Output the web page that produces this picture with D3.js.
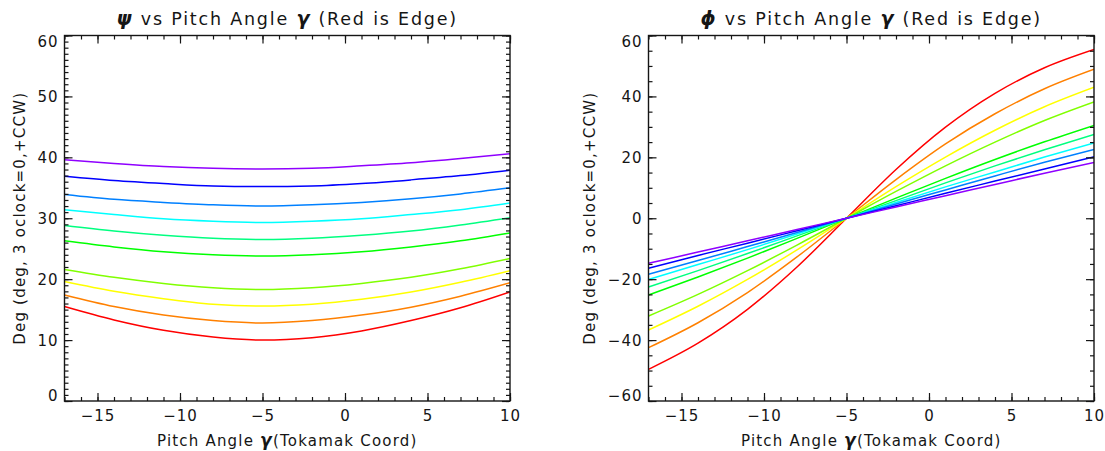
<!DOCTYPE html>
<html>
<head>
<meta charset="utf-8">
<script src="https://cdn.jsdelivr.net/npm/d3@7"></script>
<style>
  body { margin: 0; background: #fff; }
  svg text { font-family: "DejaVu Sans", sans-serif; fill: #151515; }
</style>
</head>
<body>
<svg id="chart" width="1105" height="451"></svg>
<script>
// Pitch angle samples (deg, Tokamak coordinates)
const pitch = [-17, -14, -11, -8, -5, -2, 1, 4, 7, 10];

// One colour per flux surface, red is the edge
const surfaceColors = ["#ff0000", "#ff8000", "#ffff00", "#80ff00", "#00ff00",
                       "#00ff80", "#00ffff", "#0080ff", "#0000ff", "#8f00ff"];

// psi (deg) per surface, edge first
const psiRed    = [15.5, 13.3, 11.6, 10.5, 10.0, 10.4, 11.5, 13.2, 15.3, 17.9];
const psiOrange = [17.4, 15.5, 14.1, 13.2, 12.8, 13.2, 14.1, 15.4, 17.2, 19.4];
const psiYellow = [19.6, 18.0, 16.8, 15.9, 15.6, 15.9, 16.7, 17.9, 19.5, 21.4];
const psiLime   = [21.6, 20.3, 19.3, 18.6, 18.3, 18.6, 19.3, 20.3, 21.7, 23.4];
const psiGreen  = [26.3, 25.3, 24.5, 24.0, 23.8, 24.0, 24.5, 25.3, 26.3, 27.6];
const psiSpring = [28.8, 27.9, 27.2, 26.7, 26.5, 26.7, 27.2, 27.9, 28.9, 30.1];
const psiCyan   = [31.4, 30.6, 29.9, 29.5, 29.3, 29.5, 29.9, 30.6, 31.4, 32.5];
const psiAzure  = [33.9, 33.1, 32.6, 32.2, 32.0, 32.2, 32.6, 33.2, 34.0, 35.0];
const psiBlue   = [36.9, 36.2, 35.7, 35.3, 35.2, 35.3, 35.7, 36.3, 37.0, 37.9];
const psiViolet = [39.6, 39.0, 38.5, 38.2, 38.1, 38.2, 38.6, 39.1, 39.8, 40.6];

// phi (deg) per surface, edge first
const phiRed    = [-49.6, -41.0, -29.9, -16.0, 0, 16.0, 29.9, 41.0, 49.4, 55.4];
const phiOrange = [-42.5, -34.3, -24.4, -12.7, 0, 12.7, 24.4, 34.3, 42.5, 48.9];
const phiYellow = [-36.7, -28.9, -20.1, -10.4, 0, 10.4, 20.1, 28.9, 36.6, 43.0];
const phiLime   = [-32.1, -25.0, -17.2,  -8.8, 0,  8.8, 17.2, 25.0, 32.1, 38.2];
const phiGreen  = [-25.2, -19.3, -13.1,  -6.6, 0,  6.6, 13.1, 19.3, 25.1, 30.5];
const phiSpring = [-22.6, -17.2, -11.6,  -5.8, 0,  5.8, 11.6, 17.2, 22.5, 27.5];
const phiCyan   = [-20.1, -15.2, -10.3,  -5.2, 0,  5.2, 10.3, 15.2, 20.1, 24.7];
const phiAzure  = [-18.4, -13.9,  -9.3,  -4.7, 0,  4.7,  9.3, 13.9, 18.4, 22.6];
const phiBlue   = [-16.4, -12.2,  -8.2,  -4.1, 0,  4.1,  8.2, 12.2, 16.2, 20.2];
const phiViolet = [-14.8, -11.1,  -7.4,  -3.7, 0,  3.7,  7.4, 11.1, 14.8, 18.3];

const psiSeries = [psiRed, psiOrange, psiYellow, psiLime, psiGreen, psiSpring, psiCyan, psiAzure, psiBlue, psiViolet];
const phiSeries = [phiRed, phiOrange, phiYellow, phiLime, phiGreen, phiSpring, phiCyan, phiAzure, phiBlue, phiViolet];

// Tick values
const xMajorTicks = [-15, -10, -5, 0, 5, 10];
const psiMajorTicks = [0, 10, 20, 30, 40, 50, 60];
const phiMajorTicks = [-60, -40, -20, 0, 20, 40, 60];

const svg = d3.select("#chart");
const fmt = d => (d < 0 ? "\u2212" + Math.abs(d) : String(d));

function drawPanel(opt) {
  const { left, right, top, bottom } = opt.box;
  const x = d3.scaleLinear().domain([-17, 10]).range([left, right]);
  const y = d3.scaleLinear().domain(opt.yDomain).range([bottom, top]);
  const g = svg.append("g");

  const clipId = "clip" + opt.id;
  svg.append("clipPath").attr("id", clipId)
    .append("rect").attr("x", left).attr("y", top)
    .attr("width", right - left).attr("height", bottom - top);

  // curves
  const line = d3.line()
    .x((d, i) => x(pitch[i]))
    .y(d => y(d))
    .curve(d3.curveMonotoneX);
  g.append("g").attr("clip-path", `url(#${clipId})`)
    .selectAll("path").data(opt.series).join("path")
    .attr("d", line)
    .attr("fill", "none")
    .attr("stroke", (d, i) => surfaceColors[i])
    .attr("stroke-width", 1.5);

  const xMinor = d3.range(-17, 10.01, 1);
  const yMinor = d3.range(opt.yDomain[0], opt.yDomain[1] + 0.01, opt.yMinorStep);

  function tickAxis(axisFn, scale, pos, values, size, labels) {
    const a = axisFn(scale).tickValues(values).tickSizeInner(size).tickSizeOuter(0)
      .tickPadding(labels ? 6 : 0)
      .tickFormat(labels ? fmt : "");
    const sel = g.append("g").attr("transform", pos).call(a);
    sel.select(".domain").remove();
    sel.selectAll("line").attr("stroke", "#151515").attr("stroke-width", 1.2);
    sel.selectAll("text").attr("font-size", 15).attr("letter-spacing", "1px").attr("fill", "#151515");
    return sel;
  }

  // bottom axis
  tickAxis(d3.axisBottom, x, `translate(0,${bottom})`, xMinor, -4, false);
  const xb = tickAxis(d3.axisBottom, x, `translate(0,${bottom})`, xMajorTicks, -8, true);
  xb.selectAll("text").attr("dy", "0.95em");
  // top axis
  tickAxis(d3.axisTop, x, `translate(0,${top})`, xMinor, -4, false);
  tickAxis(d3.axisTop, x, `translate(0,${top})`, xMajorTicks, -8, false);
  // left axis
  tickAxis(d3.axisLeft, y, `translate(${left},0)`, yMinor, -4, false);
  const yl = tickAxis(d3.axisLeft, y, `translate(${left},0)`, opt.yMajor, -8, true);
  yl.selectAll("text")
    .attr("dy", d => d === opt.yDomain[1] ? "0.75em" : d === opt.yDomain[0] ? "-0.05em" : "0.36em");
  // right axis
  tickAxis(d3.axisRight, y, `translate(${right},0)`, yMinor, -4, false);
  tickAxis(d3.axisRight, y, `translate(${right},0)`, opt.yMajor, -8, false);

  // frame
  g.append("rect")
    .attr("x", left).attr("y", top)
    .attr("width", right - left).attr("height", bottom - top)
    .attr("fill", "none").attr("stroke", "#151515").attr("stroke-width", 1.4);

  const cx = (left + right) / 2;

  // title
  const title = g.append("text")
    .attr("x", cx).attr("y", 25)
    .attr("text-anchor", "middle")
    .attr("font-size", 17.5)
    .attr("letter-spacing", "1.8px");
  title.append("tspan").attr("font-weight", "bold").attr("font-style", "italic").attr("font-size", 19).text(opt.symbol);
  title.append("tspan").text(" vs Pitch Angle ");
  title.append("tspan").attr("font-weight", "bold").attr("font-style", "italic").attr("font-size", 19).text("\u03b3");
  title.append("tspan").text(" (Red is Edge)");

  // x axis title
  const xt = g.append("text")
    .attr("x", cx).attr("y", 446)
    .attr("text-anchor", "middle")
    .attr("font-size", 15)
    .attr("letter-spacing", "1.2px");
  xt.append("tspan").text("Pitch Angle ");
  xt.append("tspan").attr("font-weight", "bold").attr("font-style", "italic").attr("font-size", 17).text("\u03b3");
  xt.append("tspan").text("(Tokamak Coord)");

  // y axis title
  g.append("text")
    .attr("transform", `translate(${opt.yTitleX},${(top + bottom) / 2}) rotate(-90)`)
    .attr("text-anchor", "middle")
    .attr("font-size", 15)
    .attr("letter-spacing", "1.2px")
    .text("Deg (deg, 3 oclock=0,+CCW)");
}

drawPanel({
  id: "psi",
  box: { left: 64.5, right: 510, top: 35.5, bottom: 401 },
  yDomain: [0, 60], yMajor: psiMajorTicks, yMinorStep: 1,
  series: psiSeries, symbol: "\u03c8", yTitleX: 25
});

drawPanel({
  id: "phi",
  box: { left: 648.5, right: 1094, top: 35.5, bottom: 401 },
  yDomain: [-60, 60], yMajor: phiMajorTicks, yMinorStep: 5,
  series: phiSeries, symbol: "\u03d5", yTitleX: 595
});
</script>
</body>
</html>
